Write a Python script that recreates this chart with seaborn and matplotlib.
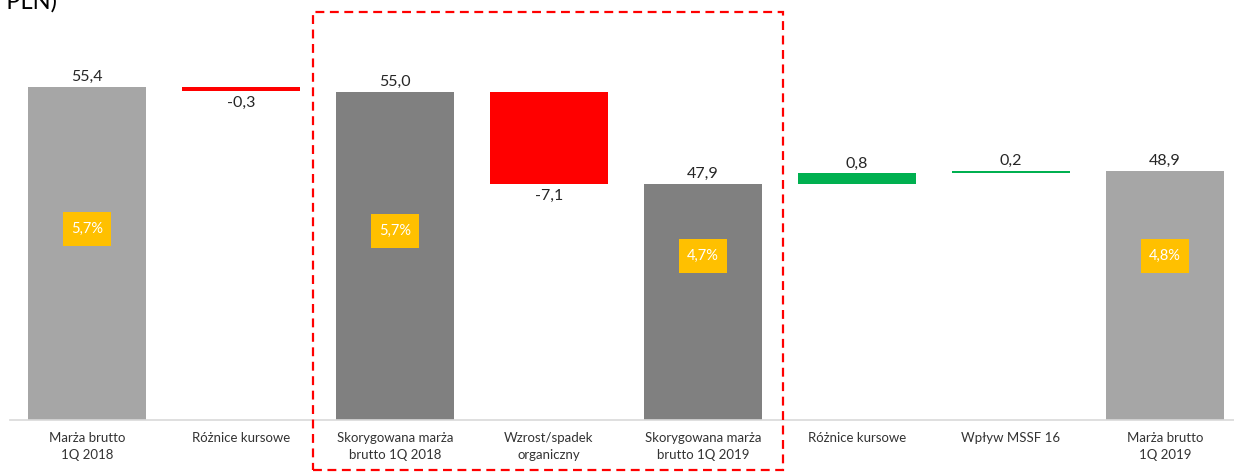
import matplotlib
matplotlib.use("Agg")
import matplotlib.pyplot as plt
import seaborn as sns
import pandas as pd
from matplotlib.patches import Rectangle

# ---- data ----
labels = ["Marża brutto\n1Q 2018", "Różnice kursowe", "Skorygowana marża\nbrutto 1Q 2018",
          "Wzrost/spadek\norganiczny", "Skorygowana marża\nbrutto 1Q 2019", "Różnice kursowe",
          "Wpływ MSSF 16", "Marża brutto\n1Q 2019"]
values = [55.4, -0.3, 55.0, -7.1, 47.9, 0.8, 0.2, 48.9]
kinds = ["total", "delta", "total", "delta", "total", "delta", "delta", "total"]
value_texts = ["55,4", "-0,3", "55,0", "-7,1", "47,9", "0,8", "0,2", "48,9"]
margin_texts = ["5,7%", None, "5,7%", None, "4,7%", None, None, "4,8%"]
margin_y = [44.4, None, 44.25, None, 42.3, None, None, 42.3]

total_colors = {0: "#A6A6A6", 2: "#808080", 4: "#808080", 7: "#A6A6A6"}
neg_color = "#FF0000"
pos_color = "#00B050"

# ---- waterfall geometry ----
bottoms, tops = [], []
level = 0.0
for v, k in zip(values, kinds):
    if k == "total":
        bottoms.append(0.0)
        tops.append(v)
        level = v
    else:
        lo, hi = sorted([level, level + v])
        bottoms.append(lo)
        tops.append(hi)
        level = level + v

W, H = 1234, 476
fig = plt.figure(figsize=(W / 100, H / 100), dpi=100)
sns.set_style("white")
plt.rcParams["font.family"] = ["Lato", "DejaVu Sans"]

ax = fig.add_axes([10 / W, (H - 420) / H, (W - 10) / W, 420 / H])

idx = list(range(len(values)))
df_tot = pd.DataFrame({"step": [i for i in idx if kinds[i] == "total"],
                       "value": [values[i] for i in idx if kinds[i] == "total"]})
sns.barplot(data=df_tot, x="step", y="value", hue="step", order=idx,
            palette=total_colors, width=0.77, legend=False, ax=ax,
            saturation=1, linewidth=0)

for i in idx:
    if kinds[i] == "delta":
        ax.bar(i, tops[i] - bottoms[i], bottom=bottoms[i], width=0.77,
               color=neg_color if values[i] < 0 else pos_color, linewidth=0)

ax.set_ylim(29.65, 62.1)
ax.set_xlim(-0.5, 7.448)

# value labels
for i in idx:
    if values[i] >= 0:
        ax.annotate(value_texts[i], (i, tops[i]), xytext=(0, 2), textcoords="offset points",
                    ha="center", va="bottom", fontsize=11.5, color="#262626")
    else:
        ax.annotate(value_texts[i], (i, bottoms[i]), xytext=(0, -4), textcoords="offset points",
                    ha="center", va="top", fontsize=11.5, color="#262626")

# margin boxes
bw, bh = 48 / 154, 34 / 12.93
for i in idx:
    if margin_texts[i]:
        ax.add_patch(Rectangle((i - bw / 2, margin_y[i] - bh / 2), bw, bh,
                               facecolor="#FFC000", edgecolor="none", zorder=3))
        ax.text(i, margin_y[i], margin_texts[i], ha="center", va="center",
                color="white", fontsize=10.5, zorder=4)

ax.set_xticks(idx)
ax.set_xticklabels(labels, fontsize=9.5, color="#333333", linespacing=1.45)
ax.tick_params(axis="x", length=0, pad=9)
ax.set_yticks([])
ax.set_xlabel("")
ax.set_ylabel("")
for s in ["top", "left", "right"]:
    ax.spines[s].set_visible(False)
ax.spines["bottom"].set_color("#D9D9D9")
ax.spines["bottom"].set_linewidth(1.2)

# dashed highlight frame
fig.patches.append(Rectangle((313 / W, (H - 470) / H), 470 / W, 458 / H,
                             transform=fig.transFigure, fill=False,
                             edgecolor="#FF0000", linewidth=1.6,
                             linestyle=(0, (4, 2.5)), zorder=10))

# title fragment, clipped at the top edge as in the reference
fig.text(57 / W, 1 - 9 / H, "(mln PLN)", ha="right", va="baseline",
         fontsize=17, color="black")

fig.savefig("out.png", dpi=100)
